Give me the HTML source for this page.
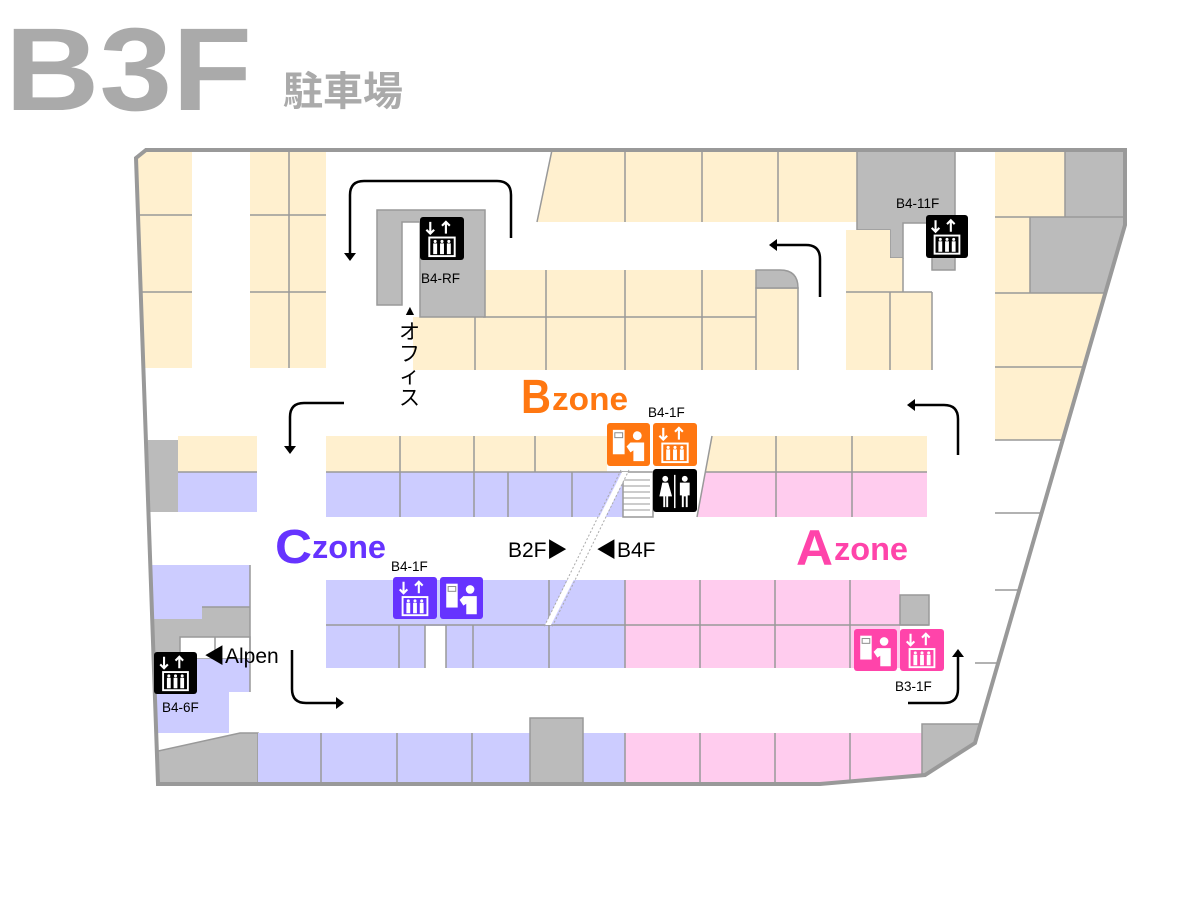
<!DOCTYPE html>
<html><head><meta charset="utf-8"><style>
html,body{margin:0;padding:0;background:#fff;}
svg{display:block;}
text{font-family:"Liberation Sans","Noto Sans CJK JP",sans-serif;}
</style></head><body>
<svg width="1200" height="900" viewBox="0 0 1200 900" xmlns="http://www.w3.org/2000/svg">
<defs>
<clipPath id="bld"><polygon points="136,158 146,150 1125,150 1125,225 975,743 925,775 820,784 158,784"/></clipPath>
<symbol id="elev" viewBox="0 0 44 44">
 <path d="M10 5v12M6 13l4 4 4-4M26 17V5M22 9l4-4 4 4" stroke="#fff" stroke-width="2.2" fill="none"/>
 <rect x="9" y="21" width="26" height="19" fill="none" stroke="#fff" stroke-width="2"/>
 <g fill="#fff"><circle cx="15" cy="25" r="1.6"/><rect x="13" y="27" width="4" height="11"/><circle cx="22" cy="25" r="1.6"/><rect x="20" y="27" width="4" height="11"/><circle cx="29" cy="25" r="1.6"/><rect x="27" y="27" width="4" height="11"/></g>
</symbol>
<symbol id="kiosk" viewBox="0 0 44 44">
 <rect x="6" y="7" width="12" height="25" fill="#fff"/>
 <rect x="8" y="10" width="8" height="5" fill="none" stroke="#888" stroke-width="1"/>
 <circle cx="31" cy="13" r="4.5" fill="#fff"/>
 <path d="M24 20h14v19H27V28l-3 2-4-6 3-3z" fill="#fff"/>
</symbol>
<symbol id="wc" viewBox="0 0 44 44">
 <g fill="#fff"><circle cx="12" cy="10" r="3"/><path d="M9 14h6l4 14h-4v11h-2V28h-1v11H10V28H6z"/>
 <rect x="21" y="6" width="1.5" height="34"/>
 <circle cx="32" cy="10" r="3"/><path d="M27 14h10v13h-2v12h-2V28h-2v11h-2V27h-2z"/></g>
</symbol>
</defs>

<text x="5" y="110" font-size="118" font-weight="bold" fill="#aaaaaa" textLength="247" lengthAdjust="spacingAndGlyphs">B3F</text>
<text x="283" y="105" font-size="40" font-weight="bold" fill="#aaaaaa">駐車場</text>

<g clip-path="url(#bld)" stroke="#999" stroke-width="1.5">
 <rect x="138" y="150" width="54" height="218" fill="#fff0cf" stroke="none"/>
 <path d="M138 215H192M138 292H192" fill="none"/>
 <rect x="250" y="150" width="76" height="218" fill="#fff0cf" stroke="none"/>
 <path d="M250 215H326M250 292H326M289 150V368" fill="none"/>
 <path d="M413 317H483V270H756V370H413Z" fill="#fff0cf" stroke="none"/>
 <path d="M483 317H756M475 317V370M546 270V370M625 270V370M702 270V370" fill="none"/>
 <path d="M756 370V288H798V370" fill="#fff0cf"/>
 <path d="M756 288V270H780Q798 270 798 288Z" fill="#bbb"/>
 <path d="M377 210H485V317H420V222H402V305H377Z" fill="#bbb"/>
 <polygon points="552,150 858,150 858,222 537,222" fill="#fff0cf" stroke="none"/>
 <path d="M625 150V222M702 150V222M778 150V222M537 222L552 150" fill="none"/>
 <path d="M857 150H955V270H932V223H903V258H890V230H857Z" fill="#bbb"/>
 <path d="M846 230H890V258H903V292H846Z" fill="#fff0cf" stroke="none"/>
 <path d="M846 292H932V370H846Z" fill="#fff0cf" stroke="none"/>
 <path d="M846 292H932M890 292V370M932 292V370M903 258V292" fill="none"/>
 <rect x="995" y="150" width="70" height="67" fill="#fff0cf" stroke="none"/>
 <rect x="1065" y="150" width="70" height="67" fill="#bbb" stroke="none"/>
 <rect x="995" y="217" width="35" height="76" fill="#fff0cf" stroke="none"/>
 <rect x="1030" y="217" width="110" height="76" fill="#bbb" stroke="none"/>
 <rect x="995" y="293" width="150" height="147" fill="#fff0cf" stroke="none"/>
 <path d="M1065 150V217M995 217H1140M1030 217V293M995 293H1140M995 367H1140M995 440H1140M995 513H1140M995 590H1140M975 663H1140" fill="none"/>
 <rect x="148" y="440" width="30" height="72" fill="#bbb" stroke="none"/>
 <rect x="178" y="436" width="79" height="36" fill="#fff0cf" stroke="none"/>
 <rect x="178" y="472" width="79" height="40" fill="#ccccff" stroke="none"/>
 <path d="M178 472H257" fill="none"/>
 <rect x="326" y="436" width="281" height="36" fill="#fff0cf" stroke="none"/>
 <rect x="326" y="472" width="297" height="45" fill="#ccccff" stroke="none"/>
 <path d="M326 472H623M400 436V517M474 436V517M535 436V472M508 472V517M572 472V517" fill="none"/>
 <rect x="623" y="472" width="30" height="45" fill="#fff"/>
 <path d="M623 480H650M623 486H650M623 492H650M623 498H650M623 504H650M623 510H650" fill="none" stroke-width="1"/>
 <polygon points="712,436 927,436 927,517 697,517" fill="#fff0cf" stroke="none"/>
 <polygon points="705,472 927,472 927,517 697,517" fill="#ffccee" stroke="none"/>
 <path d="M705 472H927M776 436V517M852 436V517M712 436L697 517" fill="none"/>
 <rect x="326" y="580" width="299" height="88" fill="#ccccff" stroke="none"/>
 <rect x="425" y="626" width="21" height="44" fill="#fff" stroke="none"/>
 <path d="M326 625H625M399 625V668M425 625V668M446 625V668M473 625V668M549 580V668" fill="none"/>
 <rect x="625" y="580" width="275" height="88" fill="#ffccee" stroke="none"/>
 <rect x="900" y="595" width="29" height="30" fill="#bbb"/>
 <path d="M625 580V668M625 625H929M700 580V668M775 580V668M850 580V668" fill="none"/>
 <polygon points="622,472 628,472 551,625 545,625" fill="#fff" stroke="none"/>
 <path d="M621 470L544 627M629 470L552 627" fill="none" stroke="#aaa" stroke-width="1" stroke-dasharray="2 2"/>
 <path d="M140 565H250V692H229V733H140Z" fill="#ccccff" stroke="none"/>
 <path d="M140 619H202V607H250V637H180V683H140Z" fill="#bbb" stroke="none"/>
 <path d="M202 607H250" fill="none"/>
 <rect x="180" y="637" width="70" height="22" fill="#fff"/>
 <path d="M215 637V659" fill="none"/>
 <rect x="197" y="659" width="53" height="33" fill="#ccccff" stroke="none"/>
 <path d="M250 565V692" fill="none"/>
 <path d="M140 755L240 733H258V790H140Z" fill="#bbb"/>
 <rect x="258" y="733" width="367" height="55" fill="#ccccff" stroke="none"/>
 <rect x="625" y="733" width="297" height="55" fill="#ffccee" stroke="none"/>
 <path d="M321 733V790M397 733V790M472 733V790M625 733V790M700 733V790M775 733V790M850 733V790" fill="none"/>
 <rect x="530" y="718" width="53" height="70" fill="#bbb"/>
 <path d="M922 724H985V790H922Z" fill="#bbb"/>
</g>
<polygon points="136,158 146,150 1125,150 1125,225 975,743 925,775 820,784 158,784" fill="none" stroke="#999" stroke-width="4"/>

<g fill="none" stroke="#000" stroke-width="2.5">
 <path d="M511 238V195Q511 181 497 181H364Q350 181 350 195V254"/>
 <path d="M344 403H304Q290 403 290 417V447"/>
 <path d="M820 297V259Q820 245 806 245H776"/>
 <path d="M958 455V419Q958 405 944 405H914"/>
 <path d="M292 650V689Q292 703 306 703H337"/>
 <path d="M908 703H944Q958 703 958 689V656"/>
</g>
<g fill="#000">
 <path d="M344 253H356L350 261Z"/><path d="M284 446H296L290 454Z"/>
 <path d="M777 239V251L769 245Z"/><path d="M915 399V411L907 405Z"/>
 <path d="M336 697V709L344 703Z"/><path d="M952 657H964L958 649Z"/>
</g>

<rect x="420" y="217" width="44" height="43" rx="3" fill="#000"/><use href="#elev" x="420" y="217" width="44" height="43"/>
<rect x="926" y="215" width="42" height="43" rx="3" fill="#000"/><use href="#elev" x="926" y="215" width="42" height="43"/>
<rect x="607" y="423" width="43" height="43" rx="3" fill="#ff7711"/><use href="#kiosk" x="607" y="423" width="43" height="43"/>
<rect x="653" y="423" width="44" height="43" rx="3" fill="#ff7711"/><use href="#elev" x="653" y="423" width="44" height="43"/>
<rect x="653" y="469" width="44" height="43" rx="3" fill="#000"/><use href="#wc" x="653" y="469" width="44" height="43"/>
<rect x="393" y="577" width="44" height="42" rx="3" fill="#6633ff"/><use href="#elev" x="393" y="577" width="44" height="42"/>
<rect x="440" y="577" width="43" height="42" rx="3" fill="#6633ff"/><use href="#kiosk" x="440" y="577" width="43" height="42"/>
<rect x="854" y="629" width="43" height="42" rx="3" fill="#ff44aa"/><use href="#kiosk" x="854" y="629" width="43" height="42"/>
<rect x="900" y="629" width="44" height="42" rx="3" fill="#ff44aa"/><use href="#elev" x="900" y="629" width="44" height="42"/>
<rect x="154" y="652" width="43" height="42" rx="3" fill="#000"/><use href="#elev" x="154" y="652" width="43" height="42"/>

<g font-size="13.5" fill="#000">
 <text x="421" y="283">B4-RF</text>
 <text x="896" y="208">B4-11F</text>
 <text x="648" y="417">B4-1F</text>
 <text x="391" y="571">B4-1F</text>
 <text x="162" y="712">B4-6F</text>
 <text x="895" y="691">B3-1F</text>
</g>
<text x="403" y="315" font-size="14">▲</text>
<g font-size="21" fill="#000">
 <text x="399" y="339">オ</text><text x="399" y="361">フ</text><text x="399" y="383">ィ</text><text x="399" y="405">ス</text>
 <text x="204" y="663">◀Alpen</text>
 <text x="508" y="557">B2F▶</text>
 <text x="596" y="557">◀B4F</text>
</g>
<g font-weight="bold">
 <text x="521" y="413" font-size="48" fill="#ff7711" textLength="30" lengthAdjust="spacingAndGlyphs">B</text><text x="552" y="410" font-size="32" fill="#ff7711" textLength="76" lengthAdjust="spacingAndGlyphs">zone</text>
 <text x="275" y="563" font-size="48" fill="#6633ff" textLength="37" lengthAdjust="spacingAndGlyphs">C</text><text x="312" y="558" font-size="32" fill="#6633ff" textLength="74" lengthAdjust="spacingAndGlyphs">zone</text>
 <text x="796" y="565" font-size="50" fill="#ff44aa" textLength="37" lengthAdjust="spacingAndGlyphs">A</text><text x="834" y="560" font-size="32" fill="#ff44aa" textLength="74" lengthAdjust="spacingAndGlyphs">zone</text>
</g>
</svg>
</body></html>
